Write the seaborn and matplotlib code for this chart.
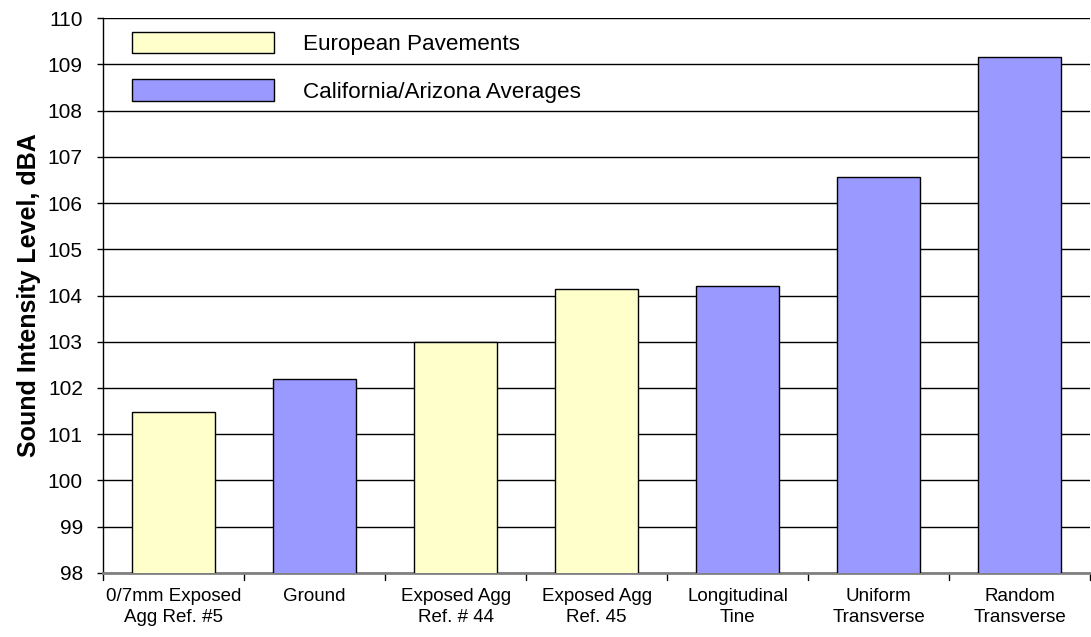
import numpy as np
import pandas as pd
import seaborn as sns
import matplotlib.pyplot as plt
from matplotlib.patches import Patch

# data
categories = ['0/7mm Exposed\nAgg Ref. #5', 'Ground', 'Exposed Agg\nRef. # 44',
              'Exposed Agg\nRef. 45', 'Longitudinal\nTine', 'Uniform\nTransverse',
              'Random\nTransverse']
values = [101.48, 102.2, 103.0, 104.15, 104.2, 106.56, 109.16]
groups = ['European Pavements', 'California/Arizona Averages', 'European Pavements',
          'European Pavements', 'California/Arizona Averages',
          'California/Arizona Averages', 'California/Arizona Averages']
colors = {'European Pavements': '#FFFFCC', 'California/Arizona Averages': '#9999FF'}

df = pd.DataFrame({'category': categories, 'value': values, 'group': groups})

sns.set_style('white')
plt.rcParams['font.family'] = ['Liberation Sans', 'DejaVu Sans']
plt.rcParams['text.color'] = 'black'
plt.rcParams['axes.labelcolor'] = 'black'
plt.rcParams['xtick.color'] = 'black'
plt.rcParams['ytick.color'] = 'black'

fig = plt.figure(figsize=(10.91, 6.37), dpi=100)
ax = fig.add_axes([0.0944, 0.1005, 0.905, 0.8712])

sns.barplot(data=df, x='category', y='value', hue='group', palette=colors,
            dodge=False, width=0.59, edgecolor='black', linewidth=1.0,
            saturation=1, ax=ax, legend=False, zorder=3)

ax.set_ylim(98, 110)
ax.set_yticks(np.arange(98, 111, 1))
ax.yaxis.grid(True, color='black', linewidth=1.0, zorder=0)
ax.set_axisbelow(True)
ax.set_xlim(-0.5, len(categories) - 0.5)

ax.set_xlabel('')
ax.set_ylabel('Sound Intensity Level, dBA', fontsize=18, fontweight='bold', labelpad=5)
ax.tick_params(axis='y', labelsize=15, length=4.5, width=1, color='black', left=True, pad=10)
ax.tick_params(axis='x', labelsize=13.5, length=0, pad=11)
for lbl in ax.get_xticklabels():
    lbl.set_linespacing(1.25)

# category separator ticks at the bottom
for xv in np.arange(-0.5, len(categories), 1):
    ax.plot([xv, xv], [0, -0.013], transform=ax.get_xaxis_transform(),
            color='black', linewidth=1, clip_on=False)

for s in ['top', 'right']:
    ax.spines[s].set_visible(False)
ax.spines['left'].set_color('black')
ax.spines['left'].set_linewidth(1)
ax.spines['bottom'].set_color('#808080')
ax.spines['bottom'].set_linewidth(2)

handles = [Patch(facecolor=colors[g], edgecolor='black', linewidth=1, label=g)
           for g in ['European Pavements', 'California/Arizona Averages']]
ax.legend(handles=handles, loc='upper left', bbox_to_anchor=(0.009, 1.012),
          frameon=False, fontsize=16.2, handlelength=6.3, handleheight=1.1,
          handletextpad=1.3, labelspacing=1.08)

fig.savefig('out.png', dpi=100)
